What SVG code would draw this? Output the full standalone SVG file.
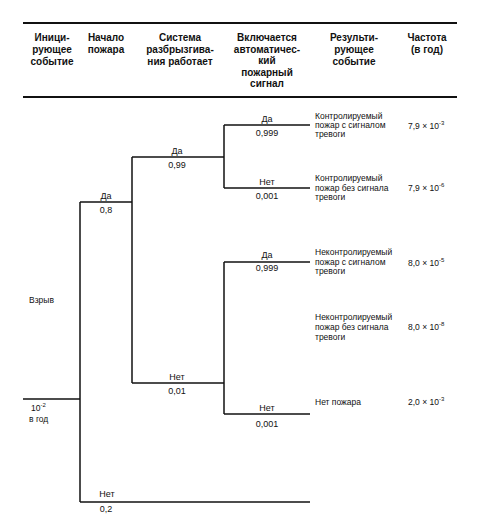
<svg xmlns="http://www.w3.org/2000/svg" width="479" height="526" viewBox="0 0 479 526">
<style>
text{font-family:"Liberation Sans",Arial,sans-serif;fill:#111}
.h{font-size:10px;font-weight:bold;text-anchor:middle}
.l{font-size:9px;text-anchor:middle}
.r{font-size:8.5px}
.f{font-size:8.5px}
.s{font-size:6px}
.rule{stroke:#111;stroke-width:2;fill:none}
.br{stroke:#111;stroke-width:1.5;fill:none}
</style>
<rect width="479" height="526" fill="#fff"/>
<g id="header">
<line class="rule" x1="23" y1="23" x2="457" y2="23"/>
<line class="rule" x1="23" y1="97" x2="457" y2="97"/>
<text class="h" x="52" y="41">Иници-</text>
<text class="h" x="52" y="53">рующее</text>
<text class="h" x="52" y="65">событие</text>
<text class="h" x="106" y="41">Начало</text>
<text class="h" x="106" y="53">пожара</text>
<text class="h" x="180" y="41">Система</text>
<text class="h" x="180" y="53">разбрызгива-</text>
<text class="h" x="180" y="65">ния работает</text>
<text class="h" x="267" y="41">Включается</text>
<text class="h" x="267" y="52.5">автоматичес-</text>
<text class="h" x="267" y="64">кий</text>
<text class="h" x="267" y="75.5">пожарный</text>
<text class="h" x="267" y="87">сигнал</text>
<text class="h" x="354" y="41">Результи-</text>
<text class="h" x="354" y="53">рующее</text>
<text class="h" x="354" y="65">событие</text>
<text class="h" x="427" y="41">Частота</text>
<text class="h" x="427" y="53">(в год)</text>
</g>
<g id="connectors">
<path class="br" d="M23,399 H80"/>
<path class="br" d="M80,202 V502"/>
<path class="br" d="M80,202 H132"/>
<path class="br" d="M80,502 H310"/>
<path class="br" d="M132,157 V383"/>
<path class="br" d="M132,157 H224"/>
<path class="br" d="M132,383 H224"/>
<path class="br" d="M224,125 V188"/>
<path class="br" d="M224,125 H310"/>
<path class="br" d="M224,188 H310"/>
<path class="br" d="M224,262 V414"/>
<path class="br" d="M224,262 H310"/>
<path class="br" d="M224,414 H310"/>
</g>
<g id="initiating-event">
<text class="r" x="29" y="303">Взрыв</text>
<text class="r" x="31" y="411">10<tspan class="s" dy="-4">-2</tspan></text>
<text class="r" x="29" y="422">в год</text>
</g>
<g id="fire-yes">
<text class="l" x="106" y="199">Да</text>
<text class="l" x="106" y="213">0,8</text>
</g>
<g id="fire-no">
<text class="l" x="107" y="497">Нет</text>
<text class="l" x="106" y="512">0,2</text>
</g>
<g id="sprinkler-yes">
<text class="l" x="177" y="154">Да</text>
<text class="l" x="177" y="168">0,99</text>
</g>
<g id="sprinkler-no">
<text class="l" x="177" y="380">Нет</text>
<text class="l" x="177" y="394">0,01</text>
</g>
<g id="alarm-1-yes">
<text class="l" x="267" y="122">Да</text>
<text class="l" x="267" y="136">0,999</text>
</g>
<g id="alarm-1-no">
<text class="l" x="267" y="185">Нет</text>
<text class="l" x="267" y="199">0,001</text>
</g>
<g id="alarm-2-yes">
<text class="l" x="267" y="258">Да</text>
<text class="l" x="267" y="271">0,999</text>
</g>
<g id="alarm-2-no">
<text class="l" x="267" y="411">Нет</text>
<text class="l" x="267" y="427">0,001</text>
</g>
<g id="outcome-1">
<text class="r" x="315" y="119">Контролируемый</text>
<text class="r" x="315" y="128">пожар с сигналом</text>
<text class="r" x="315" y="137">тревоги</text>
<text class="f" x="408" y="129">7,9 × 10<tspan class="s" dy="-4">-3</tspan></text>
</g>
<g id="outcome-2">
<text class="r" x="315" y="181">Контролируемый</text>
<text class="r" x="315" y="190.5">пожар без сигнала</text>
<text class="r" x="315" y="200">тревоги</text>
<text class="f" x="408" y="191">7,9 × 10<tspan class="s" dy="-4">-6</tspan></text>
</g>
<g id="outcome-3">
<text class="r" x="315" y="255">Неконтролируемый</text>
<text class="r" x="315" y="264.5">пожар с сигналом</text>
<text class="r" x="315" y="274">тревоги</text>
<text class="f" x="408" y="266">8,0 × 10<tspan class="s" dy="-4">-5</tspan></text>
</g>
<g id="outcome-4">
<text class="r" x="315" y="320">Неконтролируемый</text>
<text class="r" x="315" y="330">пожар без сигнала</text>
<text class="r" x="315" y="339.5">тревоги</text>
<text class="f" x="408" y="330">8,0 × 10<tspan class="s" dy="-4">-8</tspan></text>
</g>
<g id="outcome-5">
<text class="r" x="315" y="404.5">Нет пожара</text>
<text class="f" x="408" y="405">2,0 × 10<tspan class="s" dy="-4">-3</tspan></text>
</g>
</svg>
